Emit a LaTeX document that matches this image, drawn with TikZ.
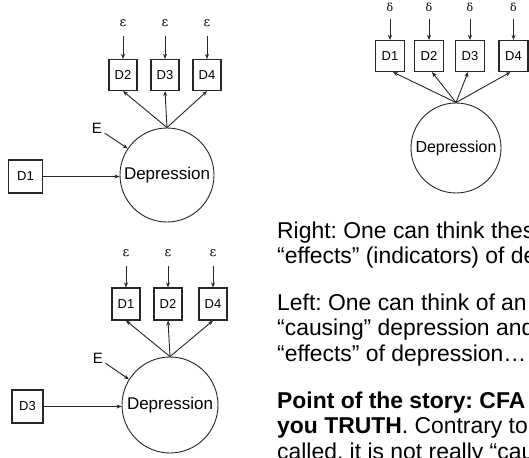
\documentclass[tikz,border=0pt]{standalone}
\usepackage{fontspec}
\setmainfont{Liberation Sans}
\newfontfamily\grkfont{DejaVu Serif}
\usetikzlibrary{arrows.meta,calc}
\begin{document}
\frenchspacing
\begin{tikzpicture}[x=1pt,y=-1pt,
  box/.style={draw=black!85,line width=1.2pt,minimum width=28pt,minimum height=31pt,inner sep=0pt,font=\fontsize{13}{13}\selectfont},
  latent/.style={circle,draw=black!85,line width=0.9pt,minimum size=#1,inner sep=0pt,font=\fontsize{17}{17}\selectfont},
  arr/.style={draw=black!85,line width=0.9pt,-{Stealth[length=5pt,width=4pt]}},
  err/.style={inner sep=0pt,font=\grkfont\fontsize{13}{13}\selectfont},
  del/.style={inner sep=0pt,font=\grkfont\fontsize{11}{11}\selectfont},
  elab/.style={inner sep=0pt,font=\fontsize{15}{15}\selectfont},
  txt/.style={anchor=base west,inner sep=0pt,font=\fontsize{22.9}{25.5}\selectfont}
]
\clip (0,0) rectangle (529,457);
\fill[white] (0,0) rectangle (529,457);

% ---------- top left ----------
\node[latent=94] (c1) at (167,175) {Depression};
\node[box] (a2) at (123,75) {D2};
\node[box] (a3) at (165,75) {D3};
\node[box] (a4) at (207,75) {D4};
\node[err] (e2) at (123,23) {ε};
\node[err] (e3) at (165,23) {ε};
\node[err] (e4) at (207,23) {ε};
\foreach \i in {2,3,4}{
  \draw[arr,shorten <=9pt] (e\i) -- (a\i);
  \draw[arr] (c1.north) -- (a\i.south);
}
\node[box,minimum width=34pt,minimum height=33pt] (b1) at (25.5,176.5) {D1};
\draw[arr] (b1.east) -- (b1.east -| c1.west);
\node[elab] (E1) at (97,128) {E};
\draw[arr,shorten <=3pt] (E1) -- (c1.146);

% ---------- top right ----------
\node[latent=90,font=\fontsize{16}{16}\selectfont] (c2) at (456,148) {Depression};
\node[box,minimum width=29pt] (r1) at (390,56) {D1};
\node[box,minimum width=29pt] (r2) at (429,56) {D2};
\node[box,minimum width=29pt] (r3) at (470,56) {D3};
\node[box,minimum width=29pt] (r4) at (513.5,56) {D4};
\node[del] (d1) at (390,7) {δ};
\node[del] (d2) at (429,7) {δ};
\node[del] (d3) at (470,7) {δ};
\node[del] (d4) at (513.5,7) {δ};
\foreach \i in {1,2,3,4}{
  \draw[arr,shorten <=8pt] (d\i) -- (r\i);
}
\draw[arr] (c2.north) -- ($(r1.south)+(3,0)$);
\draw[arr] (c2.north) -- ($(r2.south)+(3,0)$);
\draw[arr] (c2.north) -- ($(r3.south)+(-2,0)$);
\draw[arr] (c2.north) -- ($(r4.south)+(-3,0)$);

% ---------- bottom left ----------
\node[latent=96] (c3) at (170,405) {Depression};
\node[box,minimum height=32pt] (q1) at (126,304) {D1};
\node[box,minimum height=32pt] (q2) at (168,304) {D2};
\node[box,minimum height=32pt] (q4) at (213,304) {D4};
\node[err] (f1) at (126,253) {ε};
\node[err] (f2) at (168,253) {ε};
\node[err] (f4) at (213,253) {ε};
\foreach \i in {1,2,4}{
  \draw[arr,shorten <=9pt] (f\i) -- (q\i);
  \draw[arr] (c3.north) -- (q\i.south);
}
\node[box,minimum width=31pt,minimum height=33pt] (b3) at (27.5,406.5) {D3};
\draw[arr] (b3.east) -- (b3.east -| c3.west);
\node[elab] (E3) at (98,358) {E};
\draw[arr,shorten <=3pt] (E3) -- (c3.148);

% ---------- text ----------
\node[txt] (t1) at (277,238) {Right: One can think thes};
\node[txt] (t2) at (277,263) {“effects” (indicators) of de};
\node[txt] (t3) at (277,310) {Left: One can think of an};
\node[txt] (t4) at (277,335.5) {“causing” depression and};
\node[txt] (t5) at (277,361) {“effects” of depression…};
\node[txt] (t6) at (277,408) {\bfseries Point of the story: CFA};
\node[txt] (t7) at (277,433.5) {{\bfseries you TRUTH}. Contrary to};
\node[txt] (t8) at (277,459) {called, it is not really “cau};
\end{tikzpicture}
\end{document}
